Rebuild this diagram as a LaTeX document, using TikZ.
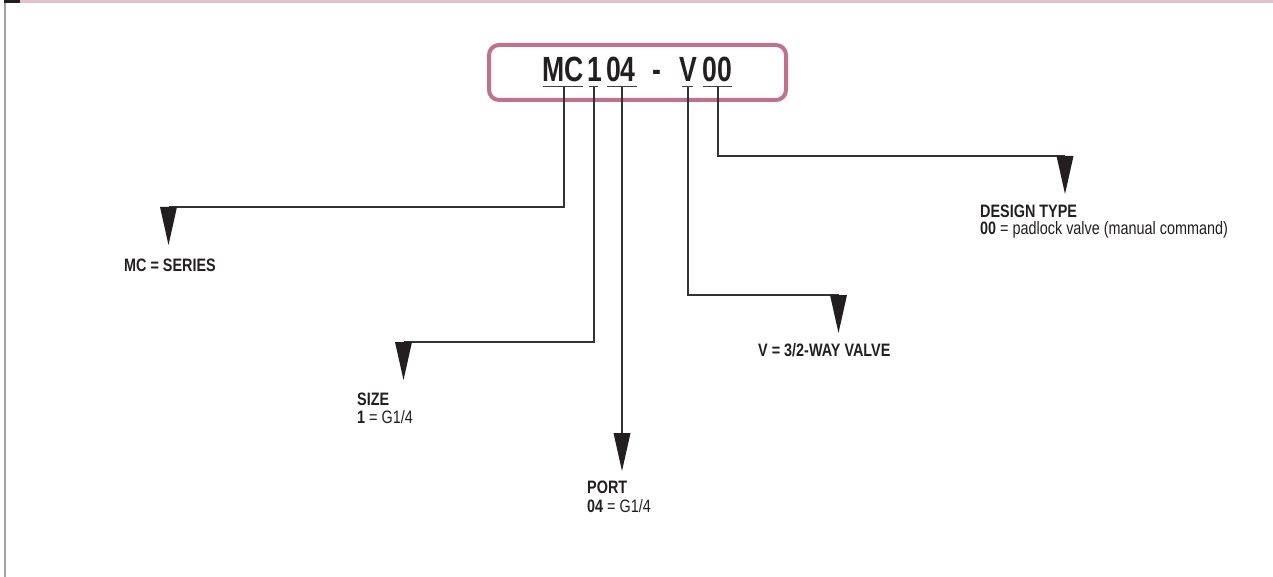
\documentclass[tikz,border=0pt]{standalone}
\usepackage{fontspec}
\setmainfont{Liberation Sans}
\newfontfamily\lblfont[FakeStretch=0.8]{Liberation Sans}
\newfontfamily\hdrfont[FakeStretch=0.76]{Liberation Sans}
\usetikzlibrary{calc}
\definecolor{bandpink}{RGB}{228,194,203}
\definecolor{boxpink}{RGB}{193,112,141}
\definecolor{inkblack}{RGB}{35,31,32}
\definecolor{leftgray}{RGB}{160,160,160}
\tikzset{
  hdrtext/.style={anchor=base west,inner sep=0pt,font=\hdrfont\fontsize{35}{35}\selectfont\bfseries,text=inkblack},
  lbltext/.style={anchor=base west,inner sep=0pt,font=\lblfont\fontsize{18}{18}\selectfont,text=inkblack},
  uline/.style={draw=black!75,line width=1pt},
  conn/.style={draw=black!80,line width=1.3pt},
  tri/.style={fill=inkblack}
}
\newcommand{\pointer}[1]{\fill[tri] ($(#1)+(-8.5,0)$) -- ($(#1)+(8.5,0)$) -- ($(#1)+(0,38)$) -- cycle;}
\begin{document}
\begin{tikzpicture}[x=1pt,y=-1pt]
\useasboundingbox (0,0) rectangle (1273,577);
% frame decorations
\fill[bandpink] (20,0) rectangle (1273,3.5);
\fill[inkblack] (4,0) rectangle (20,3.5);
\fill[leftgray] (4,3.5) rectangle (5.8,577);
% header box
\node[draw=boxpink,line width=4pt,rounded corners=10pt,minimum width=297pt,minimum height=55pt,inner sep=0pt] (hdr) at (637.5,72.5) {};
\node[hdrtext] (tMC) at (542,82) {MC};
\node[hdrtext] (t1) at (587.5,82) {1};
\node[hdrtext] (t04) at (606,82) {04};
\node[hdrtext] (tdash) at (652,82) {-};
\node[hdrtext] (tV) at (679.5,82) {V};
\node[hdrtext] (t00) at (702,82) {00};
% underlines
\draw[uline] (543,87) -- (583,87);
\draw[uline] (589,87) -- (598,87);
\draw[uline] (607,87) -- (637,87);
\draw[uline] (682,87) -- (693,87);
\draw[uline] (703,87) -- (732,87);
\coordinate (uMC) at (564,87);
\coordinate (u1) at (594,87);
\coordinate (u04) at (622,87);
\coordinate (uV) at (688,87);
\coordinate (u00) at (718,87);
% pointers
\coordinate (pMC) at (168.5,207);
\coordinate (p1) at (403.5,342);
\coordinate (p04) at (622,433);
\coordinate (pV) at (838.5,295);
\coordinate (p00) at (1065,156);
\draw[conn] (uMC) |- (pMC);
\draw[conn] (u1) |- (p1);
\draw[conn] (u04) -- (p04);
\draw[conn] (uV) |- (pV);
\draw[conn] (u00) |- (p00);
\pointer{pMC}
\pointer{p1}
\pointer{p04}
\pointer{pV}
\pointer{p00}
% labels
\node[lbltext] (lMC) at (124,271) {\bfseries MC = SERIES};
\node[lbltext] (l1a) at (357,405) {\bfseries SIZE};
\node[lbltext] (l1b) at (357,423) {\textbf{1} = G1/4};
\node[lbltext] (l04a) at (587,493) {\bfseries PORT};
\node[lbltext] (l04b) at (587,512) {\textbf{04} = G1/4};
\node[lbltext] (lV) at (758,356) {\bfseries V = 3/2-WAY VALVE};
\node[lbltext] (l00a) at (980,218) {\bfseries DESIGN TYPE};
\node[lbltext] (l00b) at (980,235) {\textbf{00} = padlock valve (manual command)};
\end{tikzpicture}
\end{document}
